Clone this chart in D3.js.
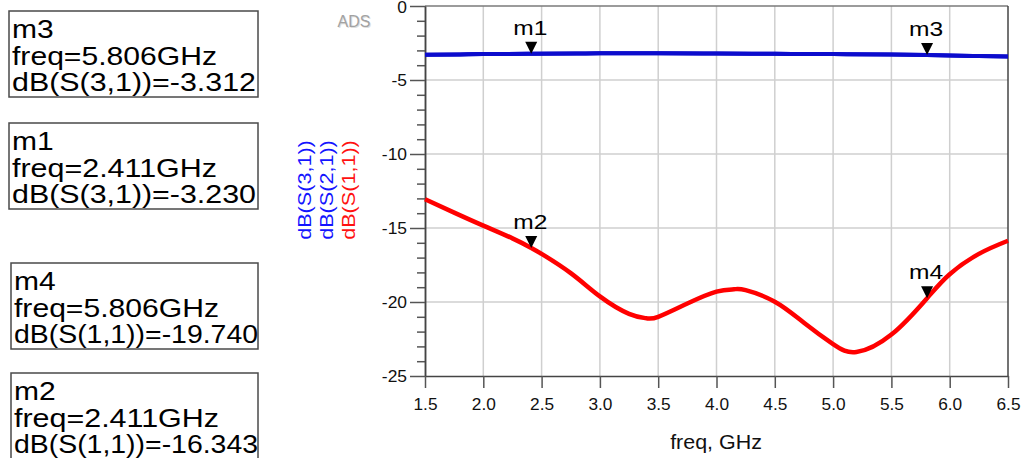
<!DOCTYPE html>
<html>
<head>
<meta charset="utf-8">
<script src="https://cdn.jsdelivr.net/npm/d3@7"></script>
<style>
  html, body { margin: 0; padding: 0; background: #fff; }
  svg { display: block; font-family: "Liberation Sans", Arial, sans-serif; }
</style>
</head>
<body>
<svg id="chart" width="1024" height="458"></svg>
<script>
// Axis ticks
const freqTicks = [1.5, 2.0, 2.5, 3.0, 3.5, 4.0, 4.5, 5.0, 5.5, 6.0, 6.5];
const dbTicks = [0, -5, -10, -15, -20, -25];

// dB(S(1,1)) — input return loss (GHz, dB)
const freqS11 = [1.5, 1.75, 2.0, 2.25, 2.411, 2.5, 2.75, 3.0, 3.25, 3.4, 3.5, 3.75, 4.0, 4.15, 4.25, 4.5, 4.75, 5.0, 5.2, 5.5, 5.806, 6.0, 6.25, 6.5];
const dbS11 = [-13.06, -13.96, -14.84, -15.7, -16.343, -16.75, -18.05, -19.62, -20.8, -21.1, -21.0, -20.1, -19.3, -19.14, -19.2, -19.98, -21.4, -22.85, -23.38, -22.2, -19.74, -18.12, -16.75, -15.86];

// dB(S(3,1)) and dB(S(2,1)) — the two through paths (they overlap)
const freqS21 = [1.5, 1.8, 2.0, 2.411, 2.8, 3.0, 3.5, 4.0, 4.5, 5.0, 5.5, 5.806, 6.0, 6.25, 6.5];
const dbS21 = [-3.30, -3.27, -3.25, -3.23, -3.21, -3.20, -3.20, -3.21, -3.23, -3.25, -3.28, -3.312, -3.34, -3.38, -3.41];
const freqS31 = [1.5, 1.8, 2.0, 2.411, 2.8, 3.0, 3.5, 4.0, 4.5, 5.0, 5.5, 5.806, 6.0, 6.25, 6.5];
const dbS31 = [-3.30, -3.27, -3.25, -3.23, -3.21, -3.20, -3.20, -3.21, -3.23, -3.25, -3.28, -3.312, -3.34, -3.38, -3.41];

// Markers
const markerNames = ["m1", "m2", "m3", "m4"];
const markerFreq = [2.411, 2.411, 5.806, 5.806];
const markerDb = [-3.230, -16.343, -3.312, -19.740];
const markerTrace = ["S(3,1)", "S(1,1)", "S(3,1)", "S(1,1)"];

const svg = d3.select("#chart");
const FONT = "Liberation Sans, Arial, sans-serif";

const x = d3.scaleLinear().domain([1.5, 6.5]).range([425, 1008]);
const y = d3.scaleLinear().domain([-25, 0]).range([376, 6]);

// grid
const grid = svg.append("g").attr("stroke", "#cfcfcf").attr("stroke-width", 1.5);
grid.selectAll("line.v").data(freqTicks.slice(1, -1)).join("line")
  .attr("class", "v")
  .attr("x1", d => x(d)).attr("x2", d => x(d))
  .attr("y1", y(0)).attr("y2", y(-25));
grid.selectAll("line.h").data(dbTicks.filter(d => d !== 0 && d !== -25)).join("line")
  .attr("class", "h")
  .attr("x1", x(1.5)).attr("x2", x(6.5))
  .attr("y1", d => y(d)).attr("y2", d => y(d));

// frame top / right
svg.append("line").attr("x1", x(1.5)).attr("x2", x(6.5)).attr("y1", y(0)).attr("y2", y(0))
  .attr("stroke", "#7a7a7a").attr("stroke-width", 1.5);
svg.append("line").attr("x1", x(6.5)).attr("x2", x(6.5)).attr("y1", y(0)).attr("y2", y(-25))
  .attr("stroke", "#444").attr("stroke-width", 1.5);

function styleAxis(g) {
  g.attr("font-family", FONT).attr("font-size", 16);
  g.select(".domain").attr("stroke", "#444").attr("stroke-width", 1.5);
  g.selectAll(".tick line").attr("stroke", "#555").attr("stroke-width", 1.5);
  g.selectAll(".tick text").attr("fill", "#111");
}

// minor y ticks
const minorDb = d3.range(-24, 0).filter(d => d % 5 !== 0);
svg.append("g")
  .attr("transform", `translate(${x(1.5)},0)`)
  .call(d3.axisLeft(y).tickValues(minorDb).tickSize(8).tickSizeOuter(0).tickFormat(""))
  .call(styleAxis);

// major y axis
svg.append("g")
  .attr("transform", `translate(${x(1.5)},0)`)
  .call(d3.axisLeft(y).tickValues(dbTicks).tickSize(15).tickSizeOuter(0).tickFormat(d => String(d)))
  .call(styleAxis)
  .call(g => g.selectAll(".tick text")
    .attr("x", -16.5).attr("dy", d => d === 0 ? "0.42em" : "0.36em")
    .attr("transform", "scale(1.09,1)"));

// x axis
svg.append("g")
  .attr("transform", `translate(0,${y(-25)})`)
  .call(d3.axisBottom(x).tickValues(freqTicks).tickSize(12).tickSizeOuter(0).tickFormat(d => d.toFixed(1)))
  .call(styleAxis)
  .call(g => g.selectAll(".tick text")
    .attr("y", 34).attr("dy", 0)
    .attr("transform", "scale(1.08,1)"));

// x axis title
svg.append("text")
  .attr("transform", "translate(716,449) scale(1.1,1)")
  .attr("text-anchor", "middle")
  .attr("font-family", FONT).attr("font-size", 19.5).attr("fill", "#111")
  .text("freq, GHz");

// y axis titles (one per trace)
const yTitles = [
  { t: "dB(S(3,1))", c: "#1414ff", bx: 311 },
  { t: "dB(S(2,1))", c: "#1414ff", bx: 332.5 },
  { t: "dB(S(1,1))", c: "#ff1010", bx: 354.5 }
];
svg.selectAll("text.ytitle").data(yTitles).join("text")
  .attr("class", "ytitle")
  .attr("transform", d => `translate(${d.bx},190) rotate(-90) scale(1.2,1)`)
  .attr("text-anchor", "middle")
  .attr("font-family", FONT).attr("font-size", 18)
  .attr("fill", d => d.c)
  .text(d => d.t);

// ADS watermark
svg.append("text").attr("x", 355).attr("y", 28).attr("text-anchor", "middle")
  .attr("font-family", FONT).attr("font-size", 16).attr("fill", "#dedede").text("ADS");
svg.append("text").attr("x", 354).attr("y", 27).attr("text-anchor", "middle")
  .attr("font-family", FONT).attr("font-size", 16).attr("fill", "#a2a2a2").text("ADS");

// traces
const line = d3.line().x(d => x(d[0])).y(d => y(d[1])).curve(d3.curveNatural);
svg.append("path").datum(d3.zip(freqS21, dbS21))
  .attr("d", line).attr("fill", "none").attr("stroke", "#1010c8").attr("stroke-width", 4);
svg.append("path").datum(d3.zip(freqS31, dbS31))
  .attr("d", line).attr("fill", "none").attr("stroke", "#0c0ccd").attr("stroke-width", 4);
svg.append("path").datum(d3.zip(freqS11, dbS11))
  .attr("d", line).attr("fill", "none").attr("stroke", "#ff0000").attr("stroke-width", 4.5)
  .attr("stroke-linejoin", "round");

// markers
const mk = svg.selectAll("g.marker").data(markerNames.map((n, i) => ({ n, f: markerFreq[i], v: markerDb[i] })))
  .join("g").attr("class", "marker")
  .attr("transform", d => `translate(${x(d.f)},${y(d.v)})`);
mk.append("path").attr("d", "M0,0L-6,-12L6,-12Z").attr("fill", "#000");
mk.append("text")
  .attr("transform", "translate(-1,-19) scale(1.17,1)")
  .attr("text-anchor", "middle")
  .attr("font-family", FONT).attr("font-size", 21).attr("fill", "#000")
  .text(d => d.n);

// marker readout boxes
const boxOrder = [2, 0, 3, 1];
const boxTop = [11, 123, 263, 373];
const boxLeft = [9, 9, 11, 11];
const lineWidth = [null, 205, 244];
boxOrder.forEach((mi, k) => {
  const g = svg.append("g").attr("transform", `translate(${boxLeft[k]},${boxTop[k]})`);
  g.append("rect").attr("width", 258 - boxLeft[k]).attr("height", 86)
    .attr("fill", "#fff").attr("stroke", "#4a4a4a").attr("stroke-width", 1.5);
  const lines = [
    markerNames[mi],
    "freq=" + markerFreq[mi].toFixed(3) + "GHz",
    "dB(" + markerTrace[mi] + ")=" + markerDb[mi].toFixed(3)
  ];
  const base = [27, 54, 80];
  lines.forEach((s, j) => {
    const t = g.append("text")
      .attr("x", 3).attr("y", base[j])
      .attr("font-family", FONT).attr("font-size", 25).attr("fill", "#000")
      .text(s);
    if (lineWidth[j]) {
      t.attr("textLength", lineWidth[j]).attr("lengthAdjust", "spacingAndGlyphs");
    } else {
      t.attr("transform", `translate(3,${base[j]}) scale(1.2,1)`).attr("x", 0).attr("y", 0);
    }
  });
});
</script>
</body>
</html>
